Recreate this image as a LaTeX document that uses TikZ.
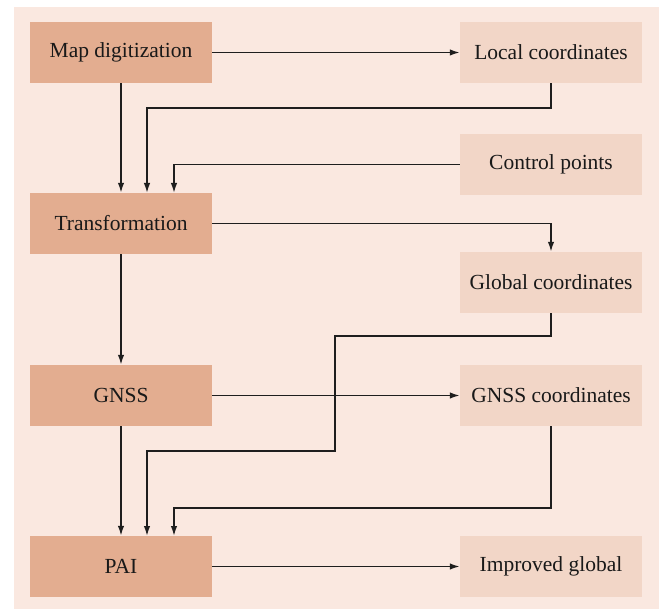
\documentclass[tikz,border=0pt]{standalone}
\usepackage{fontspec}
\setmainfont{Liberation Serif}
\usetikzlibrary{arrows.meta}
\definecolor{panel}{HTML}{FAE8E0}
\definecolor{mainbox}{HTML}{E3AD90}
\definecolor{databox}{HTML}{F2D6C7}
\definecolor{wire}{HTML}{1E1E1E}
\tikzset{
  procbox/.style={fill=mainbox, minimum width=182pt, minimum height=61pt, inner sep=0pt,
    font=\rmfamily\fontsize{21.5}{26}\selectfont, text=black!90},
  databox/.style={procbox, fill=databox},
  flow/.style={draw=wire, line width=1.6pt, -{Latex[length=10pt,width=6.5pt]}}
}
\begin{document}
\begin{tikzpicture}[x=1pt,y=-1pt]
  \useasboundingbox (0,0) rectangle (659,609);
  \fill[panel] (14,7) rectangle (659,609);

  % processing steps (left column)
  \node[procbox] (map)   at (121,52.5)  {Map digitization};
  \node[procbox] (trans) at (121,223.5) {Transformation};
  \node[procbox] (gnss)  at (121,395.5) {GNSS};
  \node[procbox] (pai)   at (121,566.5) {PAI};

  % data products (right column)
  \node[databox] (local)    at (551,52.5)  {Local coordinates};
  \node[databox] (control)  at (551,164.5) {Control points};
  \node[databox] (global)   at (551,282.5) {Global coordinates};
  \node[databox] (gnssc)    at (551,395.5) {GNSS coordinates};
  \node[databox] (improved) at (551,566.5) {Improved global};

  % main chain
  \draw[flow] (map) -- (trans);
  \draw[flow] (trans) -- (gnss);
  \draw[flow] (gnss) -- (pai);

  % horizontal outputs
  \draw[flow] (map) -- (local);
  \draw[flow] (gnss) -- (gnssc);
  \draw[flow] (pai) -- (improved);
  \draw[flow] (trans.east) -| (global.north);

  % inputs to transformation
  \draw[flow] (local.south) |- (147,108) -- (147,193);
  \draw[flow] (control.west) -- (174,164.5) -- (174,193);

  % inputs to PAI
  \draw[flow] (global.south) |- (335,336) -- (335,451) -- (147,451) -- (147,536);
  \draw[flow] (gnssc.south) |- (174,508) -- (174,536);
\end{tikzpicture}
\end{document}
